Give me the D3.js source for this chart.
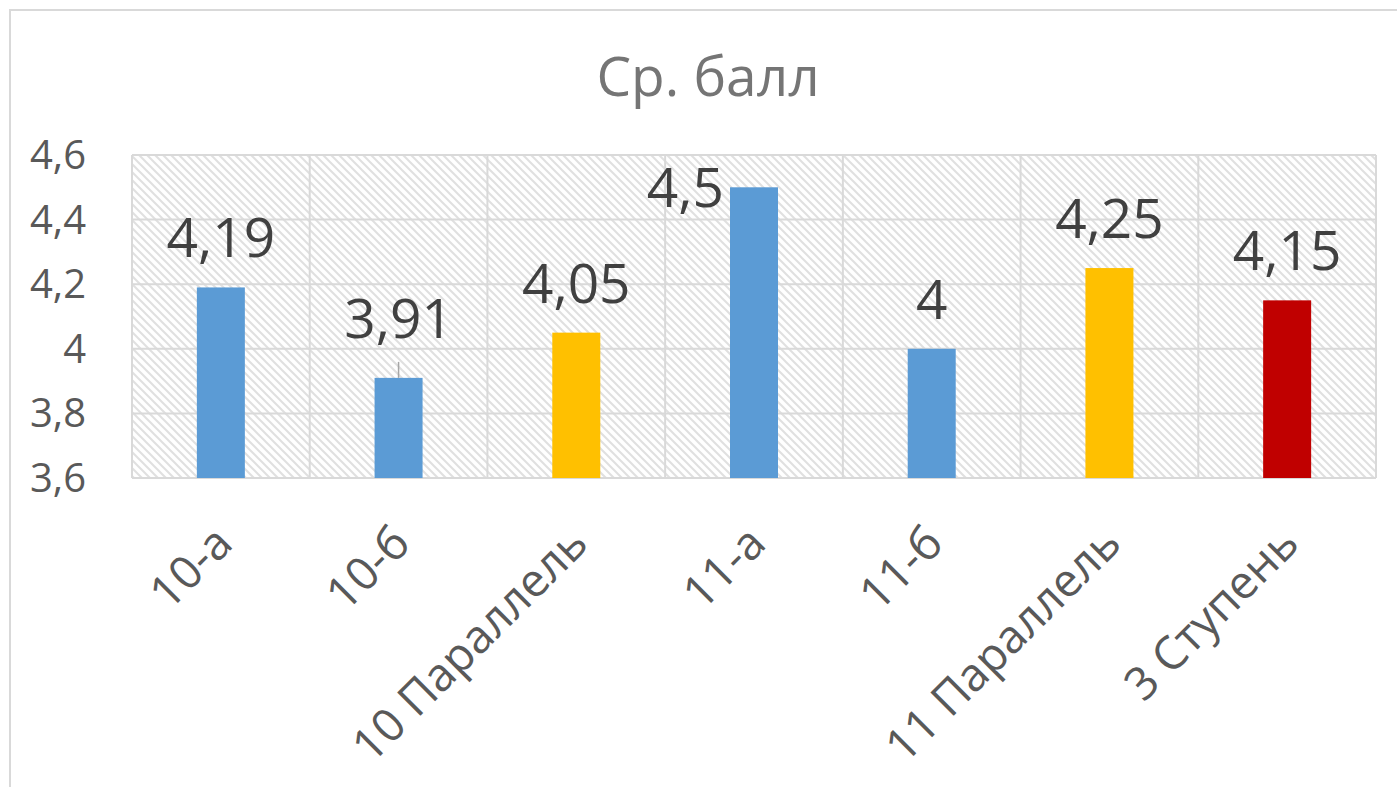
<!DOCTYPE html>
<html lang="ru">
<head>
<meta charset="utf-8">
<style>
  body { margin: 0; background: #fff; }
  svg { display: block; }
  text { font-family: "Open Sans", "Noto Sans", sans-serif; }
  .grid line { stroke: #d9d9d9; stroke-width: 2px; }
  .ylab { fill: #595959; font-size: 40px; }
  .xlab { fill: #595959; font-size: 46px; }
  .val { fill: #404040; font-size: 55px; }
  .title { fill: #757575; font-size: 55px; }
</style>
<script src="https://d3js.org/d3.v7.min.js"></script>
</head>
<body>
<script>
var categories = ["10-а", "10-б", "10 Параллель", "11-а", "11-б", "11 Параллель", "3 Ступень"];
var values = [4.19, 3.91, 4.05, 4.5, 4, 4.25, 4.15];
var barColors = ["#5b9bd5", "#5b9bd5", "#ffc000", "#5b9bd5", "#5b9bd5", "#ffc000", "#c00000"];
var yTicks = [3.6, 3.8, 4, 4.2, 4.4, 4.6];

var width = 1397, height = 787;
var plot = { left: 132, right: 1376, top: 155, bottom: 478 };

var svg = d3.select("body").append("svg")
    .attr("width", width)
    .attr("height", height);

// outer chart frame (runs off the right and bottom edges)
svg.append("rect")
    .attr("x", 10).attr("y", 10)
    .attr("width", width + 20).attr("height", height + 20)
    .attr("fill", "#fff")
    .attr("stroke", "#d9d9d9")
    .attr("stroke-width", 2);

// hatched plot background
var pat = svg.append("defs").append("pattern")
    .attr("id", "hatch")
    .attr("patternUnits", "userSpaceOnUse")
    .attr("width", 8).attr("height", 8);
pat.append("rect").attr("width", 8).attr("height", 8).attr("fill", "#fff");
pat.append("path")
    .attr("d", "M-2,-2 L10,10 M-2,6 L2,10 M6,-2 L10,2")
    .attr("stroke", "#e0e0e0")
    .attr("stroke-width", 2);

var x = d3.scaleBand()
    .domain(categories)
    .range([plot.left, plot.right])
    .paddingInner(0).paddingOuter(0);

var y = d3.scaleLinear()
    .domain([3.6, 4.6])
    .range([plot.bottom, plot.top]);

svg.append("rect")
    .attr("x", plot.left).attr("y", plot.top)
    .attr("width", plot.right - plot.left)
    .attr("height", plot.bottom - plot.top)
    .attr("fill", "url(#hatch)");

var grid = svg.append("g").attr("class", "grid");
grid.selectAll(".h")
    .data(yTicks)
    .enter().append("line")
    .attr("x1", plot.left).attr("x2", plot.right)
    .attr("y1", function(d) { return y(d); })
    .attr("y2", function(d) { return y(d); });
grid.selectAll(".v")
    .data(categories.concat([null]))
    .enter().append("line")
    .attr("x1", function(d, i) { return plot.left + i * x.bandwidth(); })
    .attr("x2", function(d, i) { return plot.left + i * x.bandwidth(); })
    .attr("y1", plot.top).attr("y2", plot.bottom);

// y axis labels
svg.selectAll(".ylab")
    .data(yTicks)
    .enter().append("text")
    .attr("class", "ylab")
    .attr("x", 86)
    .attr("y", function(d) { return y(d); })
    .attr("dy", "0.35em")
    .attr("text-anchor", "end")
    .text(function(d) { return String(d).replace(".", ","); });

// bars
var bw = 48;
svg.selectAll(".bar")
    .data(values)
    .enter().append("rect")
    .attr("class", "bar")
    .attr("x", function(d, i) { return x(categories[i]) + x.bandwidth() / 2 - bw / 2; })
    .attr("y", function(d) { return y(d); })
    .attr("width", bw)
    .attr("height", function(d) { return plot.bottom - y(d); })
    .attr("fill", function(d, i) { return barColors[i]; });

// value labels; 4,5 doesn't fit above so it sits left of the bar top
svg.selectAll(".val")
    .data(values)
    .enter().append("text")
    .attr("class", "val")
    .attr("x", function(d, i) {
        var cx = x(categories[i]) + x.bandwidth() / 2;
        return i == 3 ? cx - bw / 2 - 6 : cx;
    })
    .attr("y", function(d, i) {
        if (i == 1) return y(d) - 40;
        if (i == 3) return y(d) + 20;
        return y(d) - 30;
    })
    .attr("text-anchor", function(d, i) { return i == 3 ? "end" : "middle"; })
    .text(function(d) { return String(d).replace(".", ","); });

// leader line for 10-б
svg.append("line")
    .attr("x1", x(categories[1]) + x.bandwidth() / 2)
    .attr("x2", x(categories[1]) + x.bandwidth() / 2)
    .attr("y1", y(values[1]) - 16)
    .attr("y2", y(values[1]))
    .attr("stroke", "#a6a6a6")
    .attr("stroke-width", 1.5);

// category labels
svg.selectAll(".xlab")
    .data(categories)
    .enter().append("text")
    .attr("class", "xlab")
    .attr("text-anchor", "end")
    .attr("transform", function(d) {
        return "translate(" + (x(d) + x.bandwidth() / 2 + 14) + "," + (plot.bottom + 68) + ") rotate(-45)";
    })
    .text(function(d) { return d; });

// title
svg.append("text")
    .attr("class", "title")
    .attr("x", 708).attr("y", 96)
    .attr("text-anchor", "middle")
    .text("Ср. балл");
</script>
</body>
</html>
